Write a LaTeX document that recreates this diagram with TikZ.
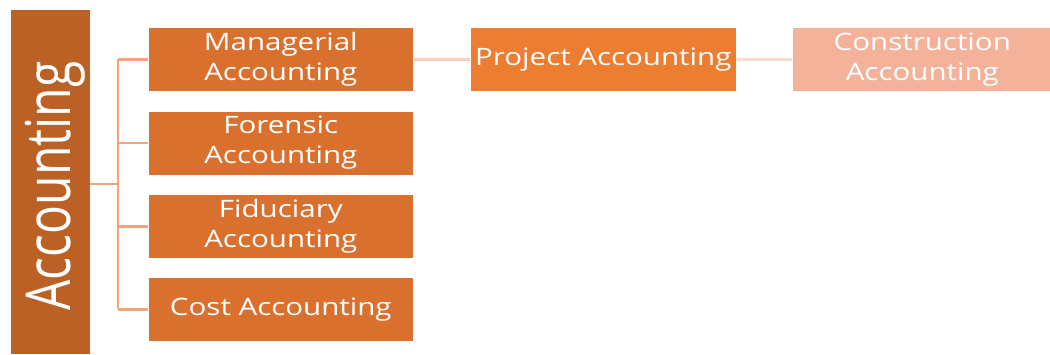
\documentclass[tikz,border=0pt]{standalone}
\usepackage{fontspec}
\setmainfont{Open Sans}
\newfontfamily\widefont[FakeStretch=1.23]{Open Sans}
\definecolor{barc}{HTML}{BC6126}
\definecolor{boxc}{HTML}{D9702E}
\definecolor{projc}{HTML}{ED7D31}
\definecolor{consc}{HTML}{F4B29A}
\definecolor{linec}{HTML}{F4A47A}
\definecolor{linel}{HTML}{F8CDBB}
\definecolor{linell}{HTML}{FADCD0}
\begin{document}
\begin{tikzpicture}[x=1pt,y=-1pt,
  box/.style={fill=boxc,draw=white,line width=0.6pt,minimum width=265pt,minimum height=64pt,inner sep=0pt,text=white,font=\widefont\fontsize{24}{30}\selectfont,align=center,anchor=north west},
  conn/.style={draw=linec,line width=2.4pt}]
\useasboundingbox (0,0) rectangle (1050,354);
\node[fill=barc,minimum width=79pt,minimum height=344pt,inner sep=0pt,anchor=north west] (root) at (11,10) {};
\node[rotate=90,text=white,font=\fontsize{48}{50}\selectfont,inner sep=0pt] (roottext) at (55,186) {\scalebox{1}[1.29]{Accounting}};
\node[box] (b1) at (148,27) {Managerial\\Accounting};
\node[box] (b2) at (148,110.5) {Forensic\\Accounting};
\node[box] (b3) at (148,194) {Fiduciary\\Accounting};
\node[box] (b4) at (148,277) {Cost Accounting};
\node[box,fill=projc,minimum width=266pt] (p) at (470,27) {Project Accounting};
\node[box,fill=consc,minimum width=260pt] (c) at (792,27) {Construction\\Accounting};
\coordinate (j) at (118,184);
\draw[conn] (root.east |- j) -- (j);
\draw[conn] (j |- b1.west) -- (j |- b4.west);
\draw[conn] (j |- b1.west) -- (b1.west);
\draw[conn] (j |- b2.west) -- (b2.west);
\draw[conn] (j |- b3.west) -- (b3.west);
\draw[conn] (j |- b4.west) -- (b4.west);
\draw[draw=linel,line width=2.4pt] (b1.east) -- (p.west);
\draw[draw=linell,line width=2.4pt] (p.east) -- (c.west);
\end{tikzpicture}
\end{document}
